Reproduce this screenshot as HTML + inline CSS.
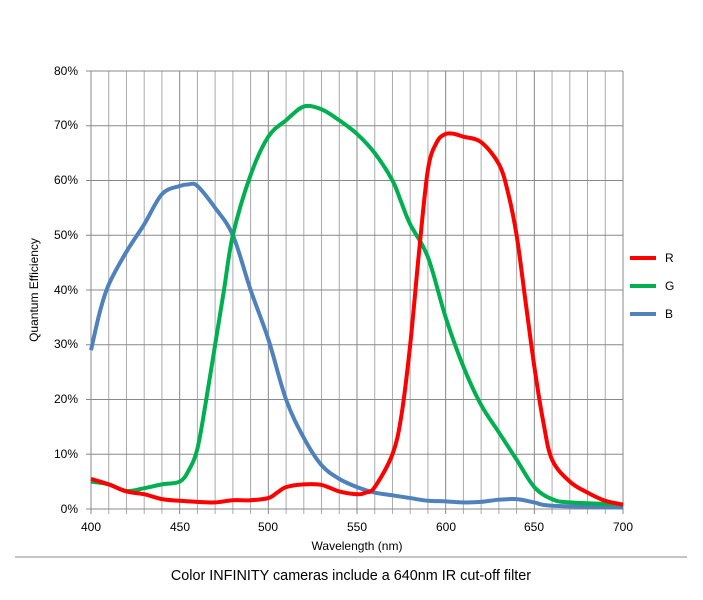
<!DOCTYPE html>
<html><head><meta charset="utf-8"><style>
body{margin:0;background:#fff}
svg{display:block;font-family:"Liberation Sans",sans-serif}
</style></head><body>
<svg id="s" width="703" height="600" xmlns="http://www.w3.org/2000/svg">
<g id="grid"></g>
<g id="series"></g>
<g font-size="12" fill="#000">
<text x="78" y="513" text-anchor="end">0%</text>
<text x="78" y="458" text-anchor="end">10%</text>
<text x="78" y="403" text-anchor="end">20%</text>
<text x="78" y="348" text-anchor="end">30%</text>
<text x="78" y="294" text-anchor="end">40%</text>
<text x="78" y="239" text-anchor="end">50%</text>
<text x="78" y="184" text-anchor="end">60%</text>
<text x="78" y="129" text-anchor="end">70%</text>
<text x="78" y="75" text-anchor="end">80%</text>
<text x="91" y="531" text-anchor="middle">400</text>
<text x="180" y="531" text-anchor="middle">450</text>
<text x="268" y="531" text-anchor="middle">500</text>
<text x="357" y="531" text-anchor="middle">550</text>
<text x="446" y="531" text-anchor="middle">600</text>
<text x="534" y="531" text-anchor="middle">650</text>
<text x="623" y="531" text-anchor="middle">700</text>
<text x="357" y="550" text-anchor="middle">Wavelength (nm)</text>
<text transform="translate(38,290) rotate(-90)" text-anchor="middle">Quantum Efficiency</text>
<text x="665" y="262">R</text>
<text x="665" y="290">G</text>
<text x="665" y="318">B</text>
<text x="351" y="580" text-anchor="middle" font-size="14.4">Color INFINITY cameras include a 640nm IR cut-off filter</text>
</g>
<line x1="630" y1="258" x2="656" y2="258" stroke="#ff0000" stroke-width="4"/>
<line x1="630" y1="286" x2="656" y2="286" stroke="#00b050" stroke-width="4"/>
<line x1="630" y1="314" x2="656" y2="314" stroke="#4f81bd" stroke-width="4"/>
<line x1="15" y1="557" x2="687" y2="557" stroke="#888" stroke-width="1"/>
</svg>
<script>
var X=w=>91+(w-400)*532/300, Y=p=>509-p*5.475;
var g=document.getElementById('grid'),h='';
for(var i=0;i<=30;i++){var x=X(400+i*10);h+='<line x1="'+x+'" y1="71" x2="'+x+'" y2="514" stroke="'+(i%5==0?'#888':'#aaa')+'" stroke-width="1"/>';}
for(var j=0;j<=8;j++){var y=Y(j*10);h+='<line x1="86" y1="'+y+'" x2="623" y2="'+y+'" stroke="#888" stroke-width="1"/>';}
g.innerHTML=h;
function path(d){var p=d.map(a=>[X(a[0]),Y(a[1])]),s='M'+p[0][0]+','+p[0][1];
for(var i=0;i<p.length-1;i++){var p0=p[i-1]||p[i],p1=p[i],p2=p[i+1],p3=p[i+2]||p2;
s+=' C'+(p1[0]+(p2[0]-p0[0])/6)+','+(p1[1]+(p2[1]-p0[1])/6)+' '+(p2[0]-(p3[0]-p1[0])/6)+','+(p2[1]-(p3[1]-p1[1])/6)+' '+p2[0]+','+p2[1];}return s;}
var R=[[400,5.5],[410,4.5],[420,3.2],[430,2.7],[440,1.8],[450,1.5],[460,1.3],[470,1.2],[480,1.6],[490,1.6],[500,2],[505,3],[510,4],[520,4.5],[530,4.4],[540,3.2],[550,2.7],[555,3],[560,4],[570,10],[575,17],[580,30],[585,47],[590,62],[595,67],[600,68.5],[605,68.5],[610,68],[620,67],[630,63],[635,58],[640,50],[645,38],[650,26],[655,16],[660,9],[670,5],[680,3],[690,1.5],[700,0.8]];
var G=[[400,5],[410,4.5],[420,3.3],[430,3.8],[440,4.5],[450,5],[455,7],[460,11],[465,20],[470,30],[475,40],[480,50],[490,61],[500,68],[510,71],[520,73.5],[530,73],[540,71],[550,68.5],[560,65],[570,60],[575,56],[580,52],[590,46],[600,35],[610,26],[620,19],[630,14],[640,9],[650,4],[660,1.8],[670,1.2],[700,0.8]];
var B=[[400,29],[405,36],[410,41],[420,47],[430,52],[440,57.5],[450,59],[455,59.3],[460,59],[470,55],[480,50],[490,40],[500,31],[510,20],[520,13],[530,8],[540,5.5],[550,4],[560,3],[570,2.5],[580,2],[590,1.5],[600,1.4],[610,1.2],[620,1.3],[630,1.7],[640,1.8],[650,1.2],[660,0.6],[700,0.3]];
document.getElementById('series').innerHTML=
'<path d="'+path(B)+'" fill="none" stroke="#4f81bd" stroke-width="4" stroke-linejoin="round"/>'+
'<path d="'+path(G)+'" fill="none" stroke="#00b050" stroke-width="4" stroke-linejoin="round"/>'+
'<path d="'+path(R)+'" fill="none" stroke="#ff0000" stroke-width="4" stroke-linejoin="round"/>';
</script>
</body></html>
